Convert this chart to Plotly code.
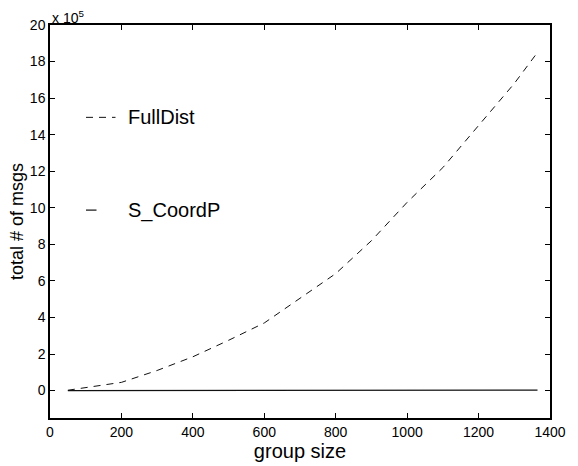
import plotly.graph_objects as go

# group sizes and total message counts for the two protocols
group_size = [50, 100, 200, 300, 400, 500, 600, 700, 800, 900, 1000, 1100, 1200, 1300, 1365]
full_dist = [2000, 15000, 45000, 110000, 185000, 275000, 370000, 505000, 640000,
             820000, 1030000, 1220000, 1450000, 1680000, 1850000]
s_coordp = [100, 200, 400, 600, 800, 1000, 1200, 1400, 1600, 1800, 2000, 2200, 2400, 2600, 2730]

y_tick_vals = [0, 200000, 400000, 600000, 800000, 1000000, 1200000, 1400000,
               1600000, 1800000, 2000000]
y_tick_text = ["0", "2", "4", "6", "8", "10", "12", "14", "16", "18", "20"]
x_tick_vals = [0, 200, 400, 600, 800, 1000, 1200, 1400]

FONT = "Liberation Sans, Arial, Helvetica, sans-serif"

fig = go.Figure()
fig.add_trace(go.Scatter(x=group_size, y=full_dist, mode="lines", name="FullDist",
                         line=dict(color="#111111", width=1, dash="7px,6px"),
                         showlegend=False))
fig.add_trace(go.Scatter(x=group_size, y=s_coordp, mode="lines", name="S_CoordP",
                         line=dict(color="#111111", width=1.2),
                         showlegend=False))

# legend: line samples + labels placed inside the axes
fig.add_shape(type="line", xref="paper", yref="paper", x0=0.072, x1=0.131, y0=0.765, y1=0.765,
              line=dict(color="#111111", width=1, dash="7px,6px"))
fig.add_shape(type="line", xref="paper", yref="paper", x0=0.072, x1=0.093, y0=0.529, y1=0.529,
              line=dict(color="#111111", width=1.2))
fig.add_annotation(text="FullDist", xref="paper", yref="paper", x=0.151, y=0.765,
                   xanchor="left", yanchor="middle", showarrow=False,
                   font=dict(family=FONT, size=20, color="black"))
fig.add_annotation(text="S_CoordP", xref="paper", yref="paper", x=0.151, y=0.529,
                   xanchor="left", yanchor="middle", showarrow=False,
                   font=dict(family=FONT, size=20, color="black"))

# axis exponent label
fig.add_annotation(text="x 10<sup>5</sup>", xref="paper", yref="paper", x=0.0, y=1.0,
                   xanchor="left", yanchor="bottom", showarrow=False, yshift=-3,
                   font=dict(family=FONT, size=14, color="black"))

fig.update_layout(
    width=578, height=466,
    margin=dict(l=50, r=21, t=25, b=44),
    paper_bgcolor="white", plot_bgcolor="white",
    font=dict(family=FONT, size=14, color="black"),
    xaxis=dict(range=[0, 1400], tickvals=x_tick_vals, ticks="inside", ticklen=5,
               tickcolor="black", showline=True, linecolor="black", linewidth=1.5,
               mirror="ticks", showgrid=False, zeroline=False,
               tickfont=dict(size=14),
               title=dict(text="group size", font=dict(size=20), standoff=0)),
    yaxis=dict(range=[-150000, 2000000], tickvals=y_tick_vals, ticktext=y_tick_text,
               ticks="inside", ticklen=5, tickcolor="black", showline=True,
               linecolor="black", linewidth=1.5, mirror="ticks", showgrid=False,
               zeroline=False, tickfont=dict(size=14),
               title=dict(text="total # of msgs", font=dict(size=18), standoff=2)),
)

fig.write_html("out.html")
